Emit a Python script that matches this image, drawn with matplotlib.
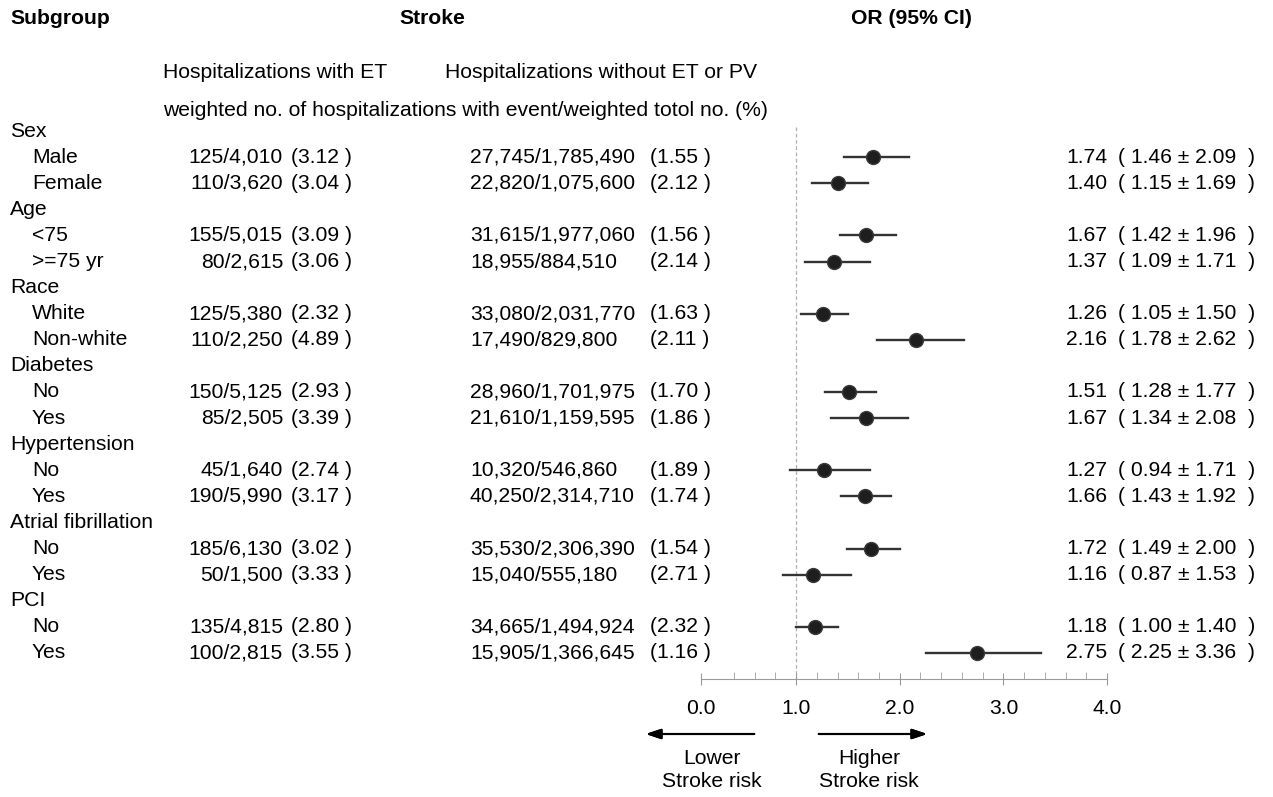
"""
Forest plot: stroke risk by subgroup (ET vs no ET/PV)
"""

import numpy as np
import matplotlib

matplotlib.use("Agg")
import matplotlib.pyplot as plt
from matplotlib import transforms

plt.rcParams["font.family"] = ["Liberation Sans", "DejaVu Sans"]

W, H = 1273, 797
FS = 15.2

# 数据
row_labels = [
    "Sex", "Male", "Female",
    "Age", "<75", ">=75 yr",
    "Race", "White", "Non-white",
    "Diabetes", "No", "Yes",
    "Hypertension", "No", "Yes",
    "Atrial fibrillation", "No", "Yes",
    "PCI", "No", "Yes",
]
is_group = [i % 3 == 0 for i in range(len(row_labels))]

et_events = [125, 110, 155, 80, 125, 110, 150, 85, 45, 190, 185, 50, 135, 100]
et_total = [4010, 3620, 5015, 2615, 5380, 2250, 5125, 2505, 1640, 5990, 6130, 1500, 4815, 2815]
et_pct = [3.12, 3.04, 3.09, 3.06, 2.32, 4.89, 2.93, 3.39, 2.74, 3.17, 3.02, 3.33, 2.80, 3.55]

no_events = [27745, 22820, 31615, 18955, 33080, 17490, 28960, 21610, 10320, 40250, 35530, 15040, 34665, 15905]
no_total = [1785490, 1075600, 1977060, 884510, 2031770, 829800, 1701975, 1159595,
            546860, 2314710, 2306390, 555180, 1494924, 1366645]
no_pct = [1.55, 2.12, 1.56, 2.14, 1.63, 2.11, 1.70, 1.86, 1.89, 1.74, 1.54, 2.71, 2.32, 1.16]

or_val = [1.74, 1.40, 1.67, 1.37, 1.26, 2.16, 1.51, 1.67, 1.27, 1.66, 1.72, 1.16, 1.18, 2.75]
ci_lo = [1.46, 1.15, 1.42, 1.09, 1.05, 1.78, 1.28, 1.34, 0.94, 1.43, 1.49, 0.87, 1.00, 2.25]
ci_hi = [2.09, 1.69, 1.96, 1.71, 1.50, 2.62, 1.77, 2.08, 1.71, 1.92, 2.00, 1.53, 1.40, 3.36]

tick_vals = [0.08, 1, 2, 3, 4]
tick_text = ["0.0", "1.0", "2.0", "3.0", "4.0"]


def fx(px):
    return px / W


def fy(py):
    return 1 - py / H


fig = plt.figure(figsize=(W / 100, H / 100), dpi=100)

# 森林图坐标轴: x=0 -> 692px, x=4 -> 1107px; 行 0 -> 131px, 每行 26.1px
x0_px, x4_px = 692.5, 1107
top_px, bot_px = 118, 679
ax = fig.add_axes([fx(x0_px), fy(bot_px), (x4_px - x0_px) / W, (bot_px - top_px) / H])
ax.set_xlim(0, 4)
ax.set_ylim(21.0, -0.5)

for s in ["top", "right", "left"]:
    ax.spines[s].set_visible(False)
ax.spines["bottom"].set_color("#9a9a9a")
ax.spines["bottom"].set_bounds(0.08, 4)
ax.set_yticks([])
ax.set_xticks(tick_vals, tick_text, fontsize=FS)
ax.set_xticks(np.arange(0.4, 4.0, 0.2), minor=True)
ax.tick_params(axis="x", which="major", direction="inout", length=9, color="#9a9a9a", pad=10)
ax.tick_params(axis="x", which="minor", direction="in", length=5, color="#9a9a9a")
ax.patch.set_alpha(0)

# 参考线
ax.plot([1, 1], [-0.15, 21.0], ls=(0, (3, 2)), color="#b0b0b0", lw=0.9, zorder=1)

data_rows = [i for i, g in enumerate(is_group) if not g]
for k, r in enumerate(data_rows):
    ax.plot([ci_lo[k], ci_hi[k]], [r, r], color="#333333", lw=1.7, zorder=2)
    ax.plot(or_val[k], r, "o", ms=10, color="#1e1e1e", mec="#3a3a3a", mew=1, zorder=3)

trans = transforms.blended_transform_factory(fig.transFigure, ax.transData)

for r, lab in enumerate(row_labels):
    x = 10 if is_group[r] else 32
    fig.text(fx(x), r, lab, transform=trans, fontsize=FS, va="center", ha="left")

for k, r in enumerate(data_rows):
    fig.text(fx(283), r, f"{et_events[k]}/{et_total[k]:,}", transform=trans,
             fontsize=FS, va="center", ha="right")
    fig.text(fx(291), r, f"({et_pct[k]:.2f} )", transform=trans,
             fontsize=FS, va="center", ha="left")
    fig.text(fx(470), r, f"{no_events[k]:,}/{no_total[k]:,}", transform=trans,
             fontsize=FS, va="center", ha="left")
    fig.text(fx(650), r, f"({no_pct[k]:.2f} )", transform=trans,
             fontsize=FS, va="center", ha="left")
    fig.text(fx(1066), r, f"{or_val[k]:.2f}", transform=trans,
             fontsize=FS, va="center", ha="left")
    fig.text(fx(1118), r, f"( {ci_lo[k]:.2f} \u00b1 {ci_hi[k]:.2f}  )", transform=trans,
             fontsize=FS, va="center", ha="left")

# 表头
fig.text(fx(10), fy(18), "Subgroup", fontsize=FS, fontweight="bold", va="center", ha="left")
fig.text(fx(432), fy(18), "Stroke", fontsize=FS, fontweight="bold", va="center", ha="center")
fig.text(fx(911), fy(18), "OR (95% CI)", fontsize=FS, fontweight="bold", va="center", ha="center")
fig.text(fx(163), fy(72), "Hospitalizations with ET", fontsize=FS, va="center", ha="left")
fig.text(fx(757), fy(72), "Hospitalizations without ET or PV", fontsize=FS, va="center", ha="right")
fig.text(fx(163), fy(110), "weighted no. of hospitalizations with event/weighted totol no. (%)",
         fontsize=FS, va="center", ha="left")

# 方向箭头
arrow_kw = dict(arrowstyle="-|>,head_length=0.9,head_width=0.3", color="black", lw=1.5)
fig.add_artist(plt.annotate("", xy=(fx(643), fy(734)), xytext=(fx(757), fy(734)),
                            xycoords="figure fraction", arrowprops=arrow_kw))
fig.add_artist(plt.annotate("", xy=(fx(930), fy(734)), xytext=(fx(816), fy(734)),
                            xycoords="figure fraction", arrowprops=arrow_kw))
fig.text(fx(712), fy(770), "Lower\nStroke risk", fontsize=FS, va="center", ha="center",
         linespacing=1.3)
fig.text(fx(869), fy(770), "Higher\nStroke risk", fontsize=FS, va="center", ha="center",
         linespacing=1.3)

plt.savefig("out.png", dpi=100)
plt.close()
